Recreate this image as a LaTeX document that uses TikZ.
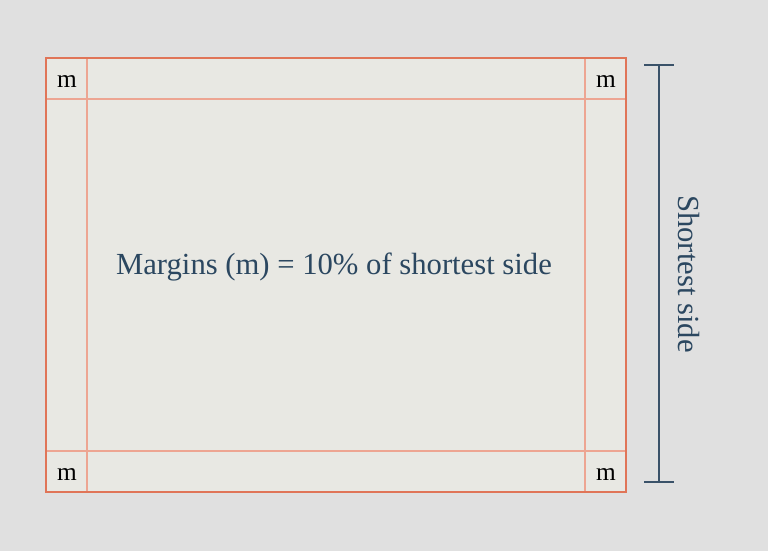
\documentclass[tikz,border=0pt]{standalone}
\usepackage{fontspec}
\setmainfont{Liberation Serif}
\definecolor{bgGray}{HTML}{E0E0E0}
\definecolor{pageGray}{HTML}{E8E8E3}
\definecolor{edgeRed}{HTML}{E07558}
\definecolor{guideRed}{HTML}{EDA592}
\definecolor{inkBlue}{HTML}{2B4760}
\definecolor{barBlue}{HTML}{3A5269}
\begin{document}
\begin{tikzpicture}[x=0.75pt,y=-0.75pt,
    page/.style={draw=edgeRed,fill=pageGray,line width=1.2pt},
    guide/.style={draw=guideRed,line width=1pt},
    corner/.style={font=\fontsize{19}{19}\selectfont,text=black,inner sep=0pt},
    dim/.style={draw=barBlue,line width=1.3pt},
    lbl/.style={font=\fontsize{23}{23}\selectfont,text=inkBlue,inner sep=0pt}]
  \fill[bgGray] (0,0) rectangle (768,551);
  \useasboundingbox (0,0) rectangle (768,551);
  \draw[page] (46,58) rectangle (626,492);
  \draw[guide] (87,58) -- (87,492);
  \draw[guide] (585,58) -- (585,492);
  \draw[guide] (46,99) -- (626,99);
  \draw[guide] (46,451) -- (626,451);
  \draw[page,fill=none] (46,58) rectangle (626,492);
  \node[corner] (mTL) at (67,82) {m};
  \node[corner] (mTR) at (606,82) {m};
  \node[corner] (mBL) at (67,475) {m};
  \node[corner] (mBR) at (606,475) {m};
  \node[lbl] (title) at (334,267) {Margins (m) = 10\% of shortest side};
  % dimension bar
  \coordinate (barTop) at (659,65);
  \coordinate (barBot) at (659,482);
  \draw[dim] (barTop) -- (barBot);
  \draw[dim] ([xshift=-11pt]barTop) -- ([xshift=11pt]barTop);
  \draw[dim] ([xshift=-11pt]barBot) -- ([xshift=11pt]barBot);
  \node[lbl,rotate=-90] (side) at (689,274) {Shortest side};
\end{tikzpicture}
\end{document}
